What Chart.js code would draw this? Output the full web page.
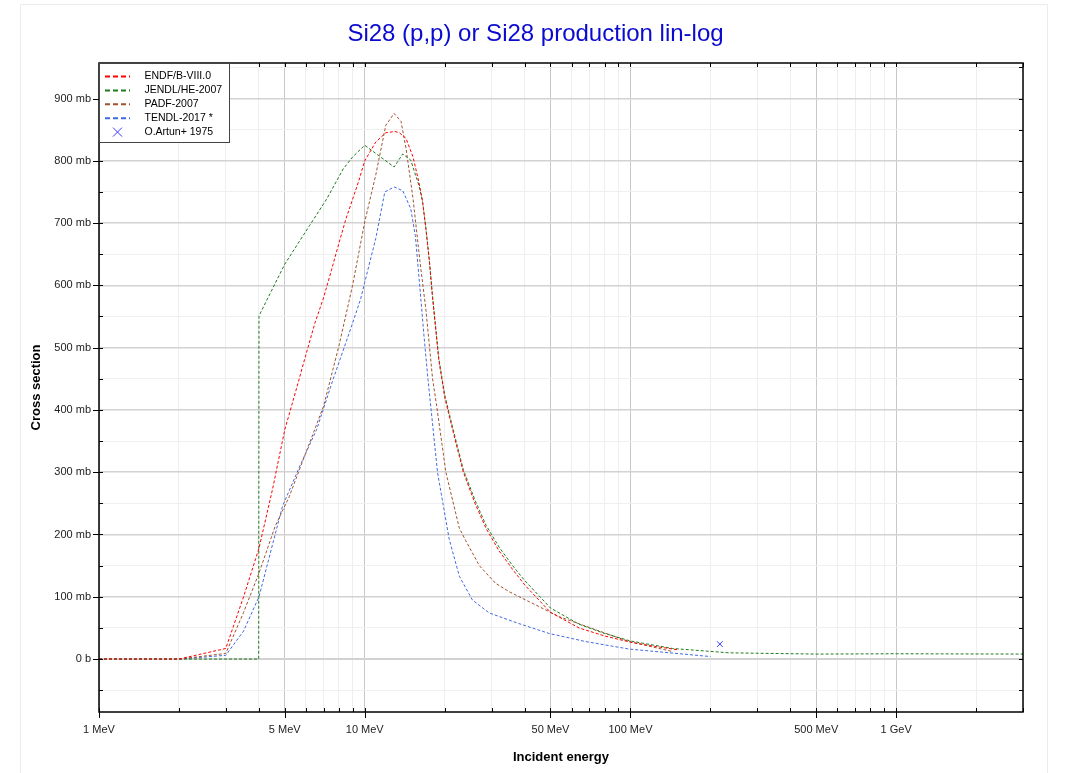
<!DOCTYPE html>
<html>
<head>
<meta charset="utf-8">
<script src="https://cdn.jsdelivr.net/npm/chart.js@4.4.1/dist/chart.umd.min.js"></script>
<style>
body { margin: 0; background: #fff; }
#frame { position: absolute; left: 20px; top: 4px; width: 1026px; height: 800px; border: 1px solid #ececec; }
#wrap { position: absolute; left: 0; top: 0; width: 1071px; height: 773px; }
</style>
</head>
<body>
<div id="frame"></div>
<div id="wrap"><canvas id="xs" width="1071" height="773"></canvas></div>
<script>
// energies in MeV, cross sections in mb
const endfE = [1, 2, 3, 3.5, 4, 4.5, 5, 5.5, 6, 6.5, 7, 7.5, 8, 8.5, 9, 9.5, 10, 11, 12, 13, 13.5, 14.3, 15.2, 16, 16.5, 17, 17.5, 18, 19, 20, 21.5, 23.5, 26, 28.6, 32, 36, 40, 50, 64, 80, 100, 125, 150];
const endfXs = [0, 0, 17, 100, 178, 273, 368, 430, 488, 540, 580, 625, 668, 707, 738, 768, 800, 830, 845, 847, 845, 836, 806, 765, 735, 690, 640, 580, 480, 420, 365, 300, 250, 210, 174, 144, 119, 75, 50, 37, 27, 20, 15];

const jendlE = [1, 3.99, 4, 5, 6.2, 7.2, 8.3, 9, 10, 12.9, 13.9, 14.9, 16, 16.5, 17, 17.5, 18, 19, 20, 21.5, 23.5, 26, 28.6, 32, 36, 40, 50, 64, 80, 100, 144, 235, 500, 1000, 3000];
const jendlXs = [0, 0, 551, 634, 696, 739, 787, 806, 825, 790, 811, 801, 760, 735, 690, 640, 582, 483, 424, 369, 304, 255, 215, 180, 150, 126, 82, 56, 41, 29, 17, 10, 8, 8.5, 8];

const padfE = [1, 2, 3, 3.5, 4, 4.6, 5.2, 6, 7, 8, 9, 10, 11, 12, 12.9, 13.7, 14.3, 15.2, 16.1, 17, 18, 18.6, 20.2, 22.7, 24, 27, 31, 35, 41.6, 54, 74, 99, 144];
const padfXs = [0, 0, 9, 75, 138, 213, 261, 331, 406, 503, 600, 702, 777, 857, 876, 863, 820, 739, 642, 560, 450, 410, 300, 210, 190, 150, 122, 108, 92, 68, 47, 28, 12];

const tendlE = [1, 2, 3, 3.5, 4, 4.9, 5.7, 6.6, 7.6, 8.75, 9.65, 10, 11, 11.9, 12.9, 13.9, 14.9, 15.5, 16.1, 16.7, 17.3, 18.8, 20.8, 22.7, 25.4, 29.4, 38, 49.5, 68, 99, 200];
const tendlXs = [0, 0, 6, 45, 100, 245, 310, 369, 449, 524, 578, 605, 675, 750, 758, 752, 723, 680, 600, 520, 449, 299, 192, 133, 95, 74, 57, 41, 28, 16, 4];

const artunE = [217];
const artunXs = [24];

const xTicks = [];
for (let d = 1; d <= 1000; d *= 10) {
  for (let m = 1; m <= 9; m++) {
    if (m * d <= 3000) xTicks.push(m * d);
  }
}
const yTicks = [];
for (let v = -50; v <= 950; v += 50) yTicks.push(v);

function pts(es, vs) {
  return es.map((e, i) => ({x: e, y: vs[i]}));
}
function mant(v) {
  return Math.round(v / Math.pow(10, Math.floor(Math.log10(v) + 1e-9)));
}
function isMajorX(v) {
  const m = mant(v);
  return m === 1 || m === 5;
}

Chart.defaults.font.family = '"Liberation Sans", Arial, sans-serif';
Chart.defaults.color = '#222';

const framePlugin = {
  id: 'frame',
  afterDraw(chart) {
    const {ctx, chartArea: a, scales} = chart;
    ctx.save();
    ctx.strokeStyle = '#000';
    ctx.lineWidth = 1;
    ctx.beginPath();
    xTicks.forEach(v => {
      const px = Math.round(scales.x.getPixelForValue(v)) + 0.5;
      const major = isMajorX(v);
      ctx.moveTo(px, a.bottom - 4);
      ctx.lineTo(px, a.bottom + (major ? 6 : 0));
      ctx.moveTo(px, a.top);
      ctx.lineTo(px, a.top + 4);
    });
    yTicks.forEach(v => {
      const py = Math.round(scales.y.getPixelForValue(v)) + 0.5;
      const major = v % 100 === 0;
      ctx.moveTo(a.left - (major ? 6 : 0), py);
      ctx.lineTo(a.left + 4, py);
      ctx.moveTo(a.right - 4, py);
      ctx.lineTo(a.right, py);
    });
    ctx.stroke();
    ctx.lineWidth = 1.5;
    ctx.strokeRect(a.left, a.top, a.right - a.left, a.bottom - a.top);

    // legend box
    const lx = a.left, ly = a.top;
    ctx.fillStyle = '#fff';
    ctx.fillRect(lx, ly, 130.5, 79.5);
    ctx.lineWidth = 1;
    ctx.strokeStyle = '#444';
    ctx.strokeRect(lx + 0.5, ly + 0.5, 130, 79);
    ctx.font = '10.5px "Liberation Sans", Arial, sans-serif';
    ctx.textBaseline = 'middle';
    ctx.textAlign = 'left';
    chart.data.datasets.forEach((ds, i) => {
      const ry = ly + 13.5 + i * 13.9;
      ctx.strokeStyle = ds.borderColor;
      if (ds.showLine) {
        ctx.lineWidth = 2;
        ctx.setLineDash([5, 3]);
        ctx.beginPath();
        ctx.moveTo(lx + 6, ry);
        ctx.lineTo(lx + 31, ry);
        ctx.stroke();
        ctx.setLineDash([]);
      } else {
        ctx.lineWidth = 1;
        ctx.beginPath();
        ctx.moveTo(lx + 14, ry - 4.5);
        ctx.lineTo(lx + 23, ry + 4.5);
        ctx.moveTo(lx + 23, ry - 4.5);
        ctx.lineTo(lx + 14, ry + 4.5);
        ctx.stroke();
      }
      ctx.fillStyle = '#000';
      ctx.fillText(ds.label, lx + 45.5, ry);
    });
    ctx.restore();
  }
};

function curve(label, es, vs, color) {
  return {
    label: label,
    data: pts(es, vs),
    showLine: true,
    borderColor: color,
    borderWidth: 1,
    borderDash: [3, 2],
    pointRadius: 0,
    fill: false,
    tension: 0
  };
}

new Chart(document.getElementById('xs').getContext('2d'), {
  type: 'scatter',
  data: {
    datasets: [
      curve('ENDF/B-VIII.0', endfE, endfXs, '#ff0000'),
      curve('JENDL/HE-2007', jendlE, jendlXs, '#1e7b1e'),
      curve('PADF-2007', padfE, padfXs, '#a0522d'),
      curve('TENDL-2017 *', tendlE, tendlXs, '#4169e1'),
      {
        label: 'O.Artun+ 1975',
        data: pts(artunE, artunXs),
        showLine: false,
        pointStyle: 'crossRot',
        pointRadius: 4,
        borderColor: '#3a3aff',
        borderWidth: 1
      }
    ]
  },
  options: {
    responsive: false,
    animation: false,
    layout: { padding: 0 },
    plugins: {
      legend: { display: false },
      tooltip: { enabled: false },
      title: {
        display: true,
        text: 'Si28 (p,p) or Si28 production lin-log',
        color: '#0a0ad0',
        font: { size: 24, weight: 'normal' },
        padding: { top: 20, bottom: 14.2 }
      }
    },
    scales: {
      x: {
        type: 'logarithmic',
        position: 'bottom',
        min: 1,
        max: 3000,
        afterBuildTicks: s => { s.ticks = xTicks.map(v => ({value: v})); },
        afterFit: s => { s.height = 61; },
        ticks: {
          autoSkip: false,
          maxRotation: 0,
          padding: 11,
          font: { size: 11 },
          callback: v => {
            if (!isMajorX(v)) return '';
            return v < 1000 ? v + ' MeV' : (v / 1000) + ' GeV';
          }
        },
        grid: {
          drawTicks: false,
          color: c => isMajorX(c.tick.value) ? '#c8c8c8' : '#eeeeee',
          lineWidth: 1
        },
        border: { display: false },
        title: {
          display: true,
          text: 'Incident energy',
          color: '#000',
          font: { size: 13, weight: 'bold' },
          padding: { top: 0, bottom: 8 }
        }
      },
      y: {
        type: 'linear',
        position: 'left',
        min: -85,
        max: 957,
        afterBuildTicks: s => { s.ticks = yTicks.map(v => ({value: v})); },
        afterFit: s => { s.width = 99; },
        ticks: {
          padding: 8,
          font: { size: 11 },
          callback: v => v % 100 === 0 ? (v === 0 ? '0 b' : v + ' mb') : ''
        },
        grid: {
          drawTicks: false,
          color: c => c.tick.value % 100 === 0 ? '#d2d2d2' : '#f0f0f0',
          lineWidth: c => c.tick.value === 0 ? 2 : (c.tick.value % 100 === 0 ? 1.5 : 1)
        },
        border: { display: false },
        title: {
          display: true,
          text: 'Cross section',
          color: '#000',
          font: { size: 13, weight: 'bold' },
          padding: { top: 29, bottom: 0 }
        }
      },
      yRight: {
        type: 'linear',
        position: 'right',
        display: true,
        afterFit: s => { s.width = 48; },
        grid: { display: false },
        ticks: { display: false },
        border: { display: false }
      }
    }
  },
  plugins: [framePlugin]
});
</script>
</body>
</html>
